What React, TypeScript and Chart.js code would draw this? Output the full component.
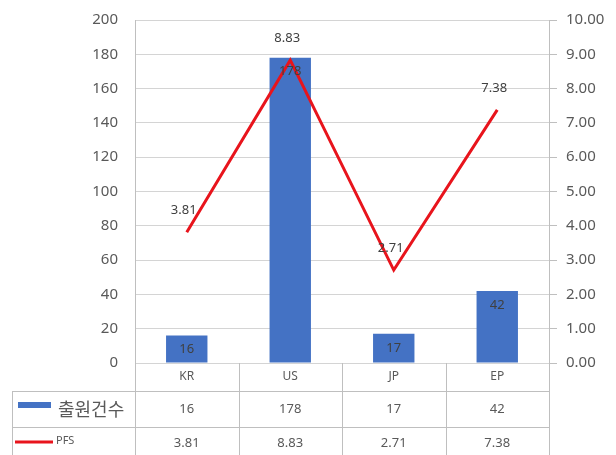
import React, { useEffect, useRef } from 'react';
import { Chart, registerables } from 'chart.js';

Chart.register(...registerables);

const categories = ['KR', 'US', 'JP', 'EP'];
const applications = [16, 178, 17, 42];
const pfs = [3.81, 8.83, 2.71, 7.38];
const barLabel = '출원건수';
const lineLabel = 'PFS';
const leftTicksMax = 200;
const rightTicksMax = 10;

const FONT = "'Noto Sans', 'Noto Sans CJK KR', sans-serif";
const KFONT = "'Noto Sans CJK KR', 'Noto Sans', sans-serif";
const BAR_COLOR = '#4472c4';
const LINE_COLOR = '#e8141c';
const TEXT = '#595959';
const GRID = '#d4d4d4';
const AXIS = '#bfbfbf';

const labelPlugin = {
  id: 'valueLabels',
  afterDatasetsDraw(chart: any) {
    const { ctx } = chart;
    ctx.save();
    ctx.textAlign = 'center';
    ctx.textBaseline = 'middle';
    ctx.font = `13px ${FONT}`;
    ctx.fillStyle = '#404040';
    chart.data.datasets.forEach((ds: any, di: number) => {
      const meta = chart.getDatasetMeta(di);
      meta.data.forEach((el: any, i: number) => {
        if (ds.type === 'bar') {
          ctx.fillText(String(ds.data[i]), el.x, el.y + 14);
        } else {
          ctx.fillText(Number(ds.data[i]).toFixed(2), el.x - 3, el.y - 22);
        }
      });
    });
    ctx.restore();
  },
};

const tablePlugin = {
  id: 'dataTable',
  afterDraw(chart: any) {
    const { ctx, chartArea: ca } = chart;
    const n = categories.length;
    const w = (ca.right - ca.left) / n;
    const top = Math.round(ca.bottom);
    const r1 = top + 28;
    const r2 = r1 + 36;
    const bottom = chart.height;
    const leftEdge = 12;
    const line = (x1: number, y1: number, x2: number, y2: number) => {
      ctx.beginPath();
      ctx.moveTo(x1, y1);
      ctx.lineTo(x2, y2);
      ctx.stroke();
    };
    ctx.save();
    ctx.strokeStyle = AXIS;
    ctx.lineWidth = 1;
    for (let i = 0; i <= n; i++) {
      const x = Math.round(ca.left + i * w) + 0.5;
      line(x, top, x, bottom);
    }
    line(leftEdge + 0.5, r1, leftEdge + 0.5, bottom);
    line(leftEdge, r1 + 0.5, Math.round(ca.right) + 1, r1 + 0.5);
    line(leftEdge, r2 + 0.5, Math.round(ca.right) + 1, r2 + 0.5);

    ctx.textAlign = 'center';
    ctx.textBaseline = 'middle';
    ctx.fillStyle = TEXT;
    categories.forEach((c, i) => {
      const cx = ca.left + (i + 0.5) * w;
      ctx.font = `12px ${FONT}`;
      ctx.fillText(c, cx, (top + r1) / 2);
      ctx.font = `13px ${FONT}`;
      ctx.fillText(String(applications[i]), cx, (r1 + r2) / 2);
      ctx.fillText(pfs[i].toFixed(2), cx, r2 + 16);
    });

    // legend keys
    ctx.fillStyle = BAR_COLOR;
    ctx.fillRect(18, (r1 + r2) / 2 - 7, 33, 6);
    ctx.strokeStyle = LINE_COLOR;
    ctx.lineWidth = 3;
    line(15, r2 + 15, 53, r2 + 15);

    ctx.textAlign = 'left';
    ctx.fillStyle = TEXT;
    ctx.font = `18px ${KFONT}`;
    ctx.fillText(barLabel, 58, (r1 + r2) / 2);
    ctx.font = `11px ${FONT}`;
    ctx.fillText(lineLabel, 56, r2 + 14);
    ctx.restore();
  },
};

export default function App() {
  const ref = useRef<HTMLCanvasElement>(null);
  useEffect(() => {
    document.body.style.margin = '0';
    const chart = new Chart(ref.current as HTMLCanvasElement, {
      type: 'bar',
      data: {
        labels: categories,
        datasets: [
          {
            type: 'line',
            label: lineLabel,
            data: pfs,
            yAxisID: 'y1',
            borderColor: LINE_COLOR,
            backgroundColor: LINE_COLOR,
            borderWidth: 3,
            pointRadius: 0,
            tension: 0,
            order: 0,
          } as any,
          {
            type: 'bar',
            label: barLabel,
            data: applications,
            yAxisID: 'y',
            backgroundColor: BAR_COLOR,
            barPercentage: 0.4,
            categoryPercentage: 1,
            order: 1,
          } as any,
        ],
      },
      options: {
        responsive: false,
        animation: false,
        layout: { padding: { top: 0, left: 0, right: 0, bottom: 0 } },
        plugins: { legend: { display: false }, tooltip: { enabled: false } },
        scales: {
          x: {
            type: 'category',
            offset: true,
            grid: { display: false },
            border: { display: false },
            ticks: { display: false },
            afterFit: (s: any) => { s.height = 92; },
          },
          y: {
            position: 'left',
            min: 0,
            max: leftTicksMax,
            ticks: { stepSize: 20, color: TEXT, font: { family: FONT, size: 15 }, padding: 17 },
            grid: { color: GRID, drawTicks: false },
            border: { color: AXIS },
            afterFit: (s: any) => { s.width = 135; s.paddingTop = 20; },
          },
          y1: {
            position: 'right',
            min: 0,
            max: rightTicksMax,
            ticks: {
              stepSize: 1,
              color: TEXT,
              font: { family: FONT, size: 15 },
              padding: 9,
              callback: (v: any) => Number(v).toFixed(2),
            },
            grid: { drawOnChartArea: false, tickLength: 8, color: AXIS },
            border: { color: AXIS },
            afterFit: (s: any) => { s.width = 67; s.paddingTop = 20; },
          },
        } as any,
      },
      plugins: [labelPlugin, tablePlugin],
    });
    return () => chart.destroy();
  }, []);
  return (
    <div style={{ width: 616, height: 455 }}>
      <canvas ref={ref} width={616} height={455} />
    </div>
  );
}
